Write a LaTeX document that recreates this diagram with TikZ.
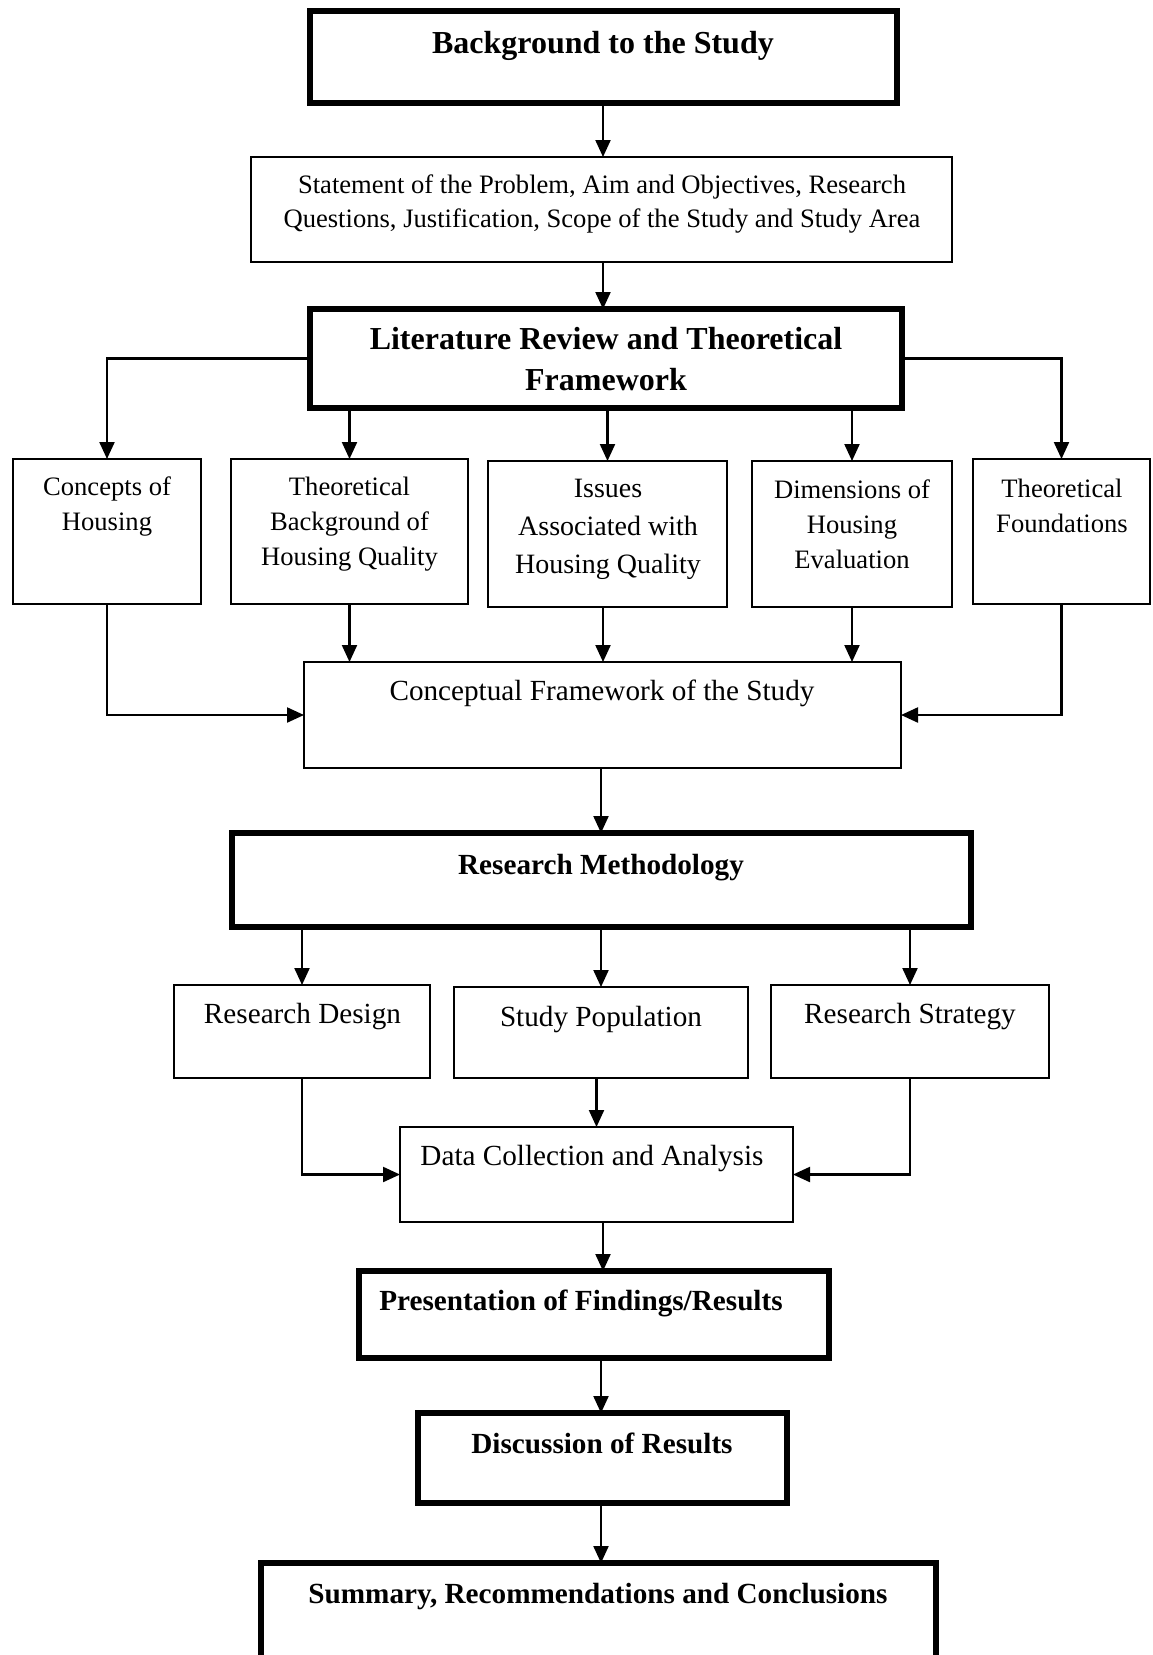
\documentclass[tikz,border=0pt]{standalone}
\usepackage{fontspec}
\setmainfont{Liberation Serif}
\usetikzlibrary{arrows.meta}
\tikzset{
  boxthin/.style={draw, rectangle, line width=1.8pt, inner sep=0pt, outer sep=0pt},
  boxthick/.style={draw, rectangle, line width=5.5pt, inner sep=0pt, outer sep=0pt},
  conn/.style={line width=2.2pt, -{Triangle[length=17pt,width=15pt]}},
  lab/.style={inner sep=0pt, anchor=north, align=center},
  fsA/.style={font=\fontsize{26.6}{34}\selectfont},
  fsB/.style={font=\fontsize{26.6}{35}\selectfont},
  fsC/.style={font=\fontsize{28}{38}\selectfont},
  fsD/.style={font=\fontsize{29.2}{36}\selectfont},
  fsBold/.style={font=\bfseries\fontsize{29.2}{36}\selectfont},
  fsBig/.style={font=\bfseries\fontsize{32}{41}\selectfont},
}
\newcommand\mkbox[6]{\node[#1, minimum width={#4-#2}, minimum height={#5-#3}] (#6) at ({(#2+#4)/2},{(#3+#5)/2}) {};}
\begin{document}
\begin{tikzpicture}[x=1pt,y=-1pt]
\useasboundingbox (0,0) rectangle (1152,1655);
\clip (0,0) rectangle (1152,1655);
\fill[white] (0,0) rectangle (1152,1655);
% boxes
\mkbox{boxthick}{310}{11}{897}{103}{bg}
\mkbox{boxthin}{251}{157}{952}{262}{st}
\mkbox{boxthick}{310}{309}{902}{408}{lit}
\mkbox{boxthin}{13}{459}{201}{604}{c1}
\mkbox{boxthin}{231}{459}{468}{604}{c2}
\mkbox{boxthin}{488}{461}{727}{607}{c3}
\mkbox{boxthin}{752}{461}{952}{607}{c4}
\mkbox{boxthin}{973}{459}{1150}{604}{c5}
\mkbox{boxthin}{304}{662}{901}{768}{cf}
\mkbox{boxthick}{232}{833}{971}{927}{rm}
\mkbox{boxthin}{174}{985}{430}{1078}{rd}
\mkbox{boxthin}{454}{987}{748}{1078}{sp}
\mkbox{boxthin}{771}{985}{1049}{1078}{rs}
\mkbox{boxthin}{400}{1127}{793}{1222}{dc}
\mkbox{boxthick}{359}{1271}{829}{1358}{pres}
\mkbox{boxthick}{418}{1413}{787}{1503}{disc}
\mkbox{boxthick}{261}{1563}{936}{1700}{sum}
% texts
\node[lab, fsBig] (tbg) at (603,31) {Background to the Study};
\node[lab, fsA] (tst) at (602,175) {Statement of the Problem, Aim and Objectives, Research\\Questions, Justification, Scope of the Study and Study Area};
\node[lab, fsBig] (tlit) at (606,327) {Literature Review and Theoretical\\Framework};
\node[lab, fsB] (tc1) at (107,477) {Concepts of\\Housing};
\node[lab, fsB] (tc2) at (349.5,477) {Theoretical\\Background of\\Housing Quality};
\node[lab, fsC] (tc3) at (608,479) {Issues\\Associated with\\Housing Quality};
\node[lab, fsB] (tc4) at (852,480) {Dimensions of\\Housing\\Evaluation};
\node[lab, fsB] (tc5) at (1062,479) {Theoretical\\Foundations};
\node[lab, fsD] (tcf) at (602,680) {Conceptual Framework of the Study};
\node[lab, fsBold] (trm) at (601,854) {Research Methodology};
\node[lab, fsD] (trd) at (302.5,1003) {Research Design};
\node[lab, fsD] (tsp) at (601,1006) {Study Population};
\node[lab, fsD] (trs) at (910,1003) {Research Strategy};
\node[lab, fsD] (tdc) at (592,1145) {Data Collection and Analysis};
\node[lab, fsBold] (tpres) at (581,1290) {Presentation of Findings/Results};
\node[lab, fsBold] (tdisc) at (602,1433) {Discussion of Results};
\node[lab, fsBold] (tsum) at (598,1583) {Summary, Recommendations and Conclusions};
% spine coordinates
\coordinate (sx) at (603,0);
\coordinate (sx2) at (601,0);
% connectors
\draw[conn] (bg.south -| sx) -- (st.north -| sx);
\draw[conn] (st.south -| sx) -- (lit.north -| sx);
\draw[conn] (lit.west) -| (c1.north);
\draw[conn] (lit.south -| c2.north) -- (c2.north);
\draw[conn] (lit.south -| c3.north) -- (c3.north);
\draw[conn] (lit.south -| c4.north) -- (c4.north);
\draw[conn] (lit.east) -| (c5.north);
\draw[conn] (c1.south) |- (cf.west);
\draw[conn] (c2.south) -- (c2.south |- cf.north);
\draw[conn] (c3.south -| sx) -- (cf.north -| sx);
\draw[conn] (c4.south) -- (c4.south |- cf.north);
\draw[conn] (c5.south) |- (cf.east);
\draw[conn] (cf.south -| sx2) -- (rm.north -| sx2);
\draw[conn] (rm.south -| rd.north) -- (rd.north);
\draw[conn] (rm.south -| sp.north) -- (sp.north);
\draw[conn] (rm.south -| rs.north) -- (rs.north);
\draw[conn] (sp.south -| dc.north) -- (dc.north);
\draw[conn] (rd.south) |- (dc.west);
\draw[conn] (rs.south) |- (dc.east);
\draw[conn] (dc.south -| sx) -- (pres.north -| sx);
\draw[conn] (pres.south -| sx2) -- (disc.north -| sx2);
\draw[conn] (disc.south -| sx2) -- (sum.north -| sx2);
\end{tikzpicture}
\end{document}
